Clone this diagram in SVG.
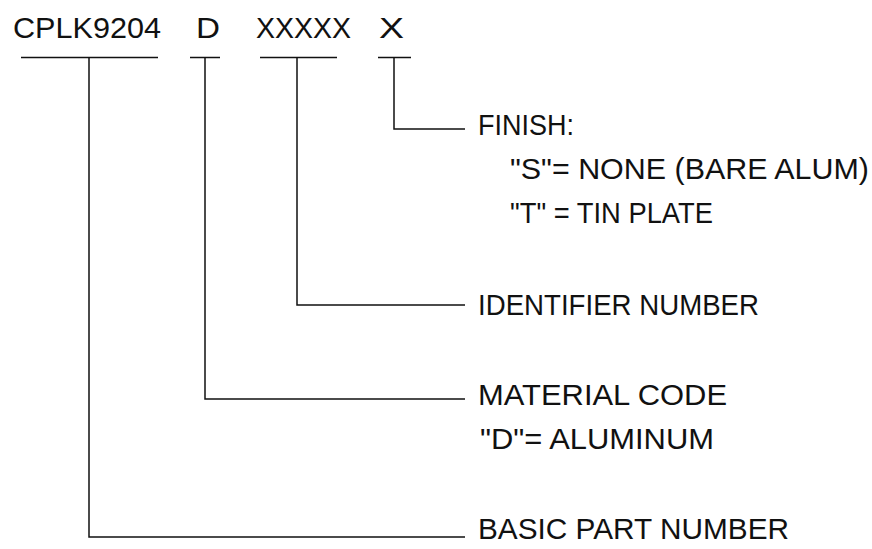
<svg xmlns="http://www.w3.org/2000/svg" width="872" height="549" viewBox="0 0 872 549">
<style>
text{font-family:"Liberation Sans",Arial,sans-serif;font-size:29.5px;fill:#111}
.ln{stroke:#111;stroke-width:1.5;fill:none}
</style>
<rect width="872" height="549" fill="#fff"/>
<g id="part-number">
<text x="13" y="38" textLength="148" lengthAdjust="spacingAndGlyphs">CPLK9204</text>
<text x="196" y="38" textLength="24" lengthAdjust="spacingAndGlyphs">D</text>
<text x="256" y="38" textLength="95" lengthAdjust="spacingAndGlyphs">XXXXX</text>
<text x="379" y="38" textLength="25" lengthAdjust="spacingAndGlyphs">X</text>
</g>
<g id="connectors">
<path class="ln" d="M21 57.5H158M190 57.5H220M260 57.5H337M378 57.5H411"/>
<path class="ln" d="M394 57.5V129H465"/>
<path class="ln" d="M297 57.5V305H465"/>
<path class="ln" d="M205 57.5V399H465"/>
<path class="ln" d="M89 57.5V537H465"/>
</g>
<g id="finish">
<text x="478" y="135" textLength="96" lengthAdjust="spacingAndGlyphs">FINISH:</text>
<text x="510" y="179" textLength="359" lengthAdjust="spacingAndGlyphs">"S"= NONE (BARE ALUM)</text>
<text x="510" y="223" textLength="203" lengthAdjust="spacingAndGlyphs">"T" = TIN PLATE</text>
</g>
<g id="identifier">
<text x="478" y="315" textLength="281" lengthAdjust="spacingAndGlyphs">IDENTIFIER NUMBER</text>
</g>
<g id="material">
<text x="478" y="405" textLength="249" lengthAdjust="spacingAndGlyphs">MATERIAL CODE</text>
<text x="480" y="449" textLength="234" lengthAdjust="spacingAndGlyphs">"D"= ALUMINUM</text>
</g>
<g id="basic">
<text x="478" y="539" textLength="311" lengthAdjust="spacingAndGlyphs">BASIC PART NUMBER</text>
</g>
</svg>
